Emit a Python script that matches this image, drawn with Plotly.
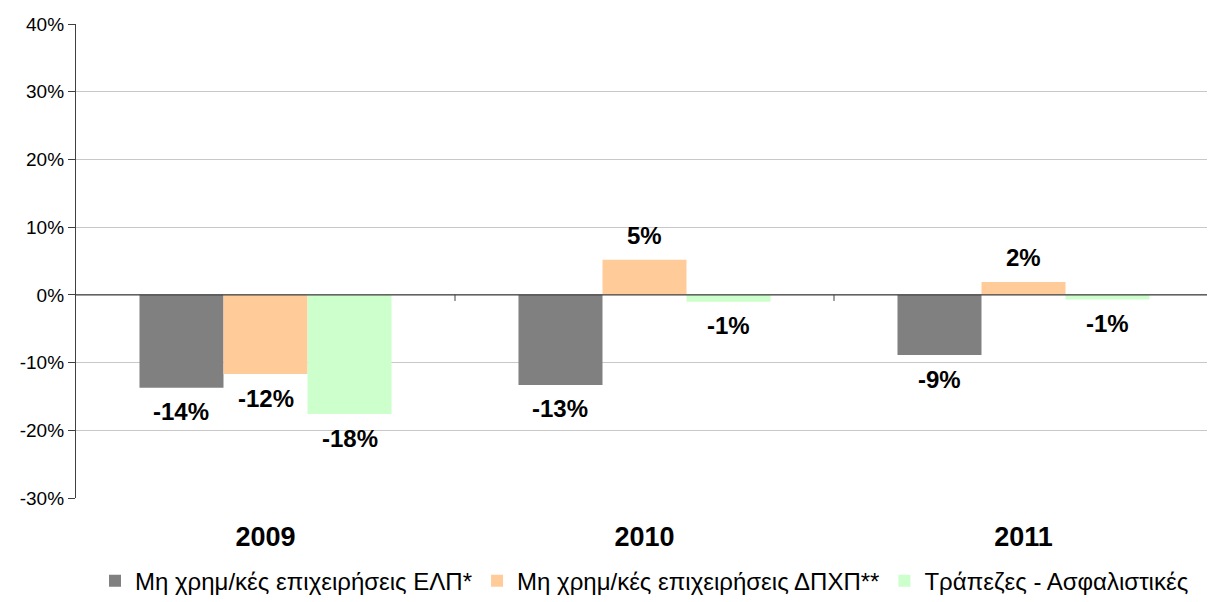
import plotly.graph_objects as go

years = ["2009", "2010", "2011"]
series_names = ["Μη χρημ/κές επιχειρήσεις ΕΛΠ*", "Μη χρημ/κές επιχειρήσεις ΔΠΧΠ**", "Τράπεζες - Ασφαλιστικές"]
elp = [-0.137, -0.133, -0.089]
dpxp = [-0.117, 0.052, 0.019]
banks = [-0.176, -0.010, -0.007]
colors = ["#808080", "#FFCC99", "#CCFFCC"]
tick_vals = [-0.3, -0.2, -0.1, 0, 0.1, 0.2, 0.3, 0.4]
tick_text = ["-30%", "-20%", "-10%", "0%", "10%", "20%", "30%", "40%"]

FONT = "Liberation Sans, Arial, sans-serif"
BARGAP = 0.335
all_series = [elp, dpxp, banks]
n_series = len(all_series)
bar_w = (1 - BARGAP) / n_series

fig = go.Figure()
for name, vals, col in zip(series_names, all_series, colors):
    fig.add_trace(go.Bar(
        x=list(range(len(years))), y=vals, name=name,
        marker=dict(color=col, line=dict(width=0)),
        hoverinfo="name+y",
    ))

# data labels
annotations = []
for k, vals in enumerate(all_series):
    off = (k - (n_series - 1) / 2) * bar_w
    for i, v in enumerate(vals):
        annotations.append(dict(
            x=i + off, y=v, xref="x", yref="y",
            text=f"<b>{round(v*100):d}%</b>", showarrow=False,
            yshift=24 if v >= 0 else -24, yanchor="middle",
            font=dict(family=FONT, size=24, color="black"),
        ))

# zero line and its tick marks at category boundaries
for xb in [0.5, 1.5, 2.5]:
    fig.add_shape(type="line", xref="x", yref="y", x0=xb, x1=xb, y0=0, y1=-0.009,
                  line=dict(color="#404040", width=1))
fig.add_shape(type="line", xref="paper", yref="y", x0=0, x1=1, y0=0, y1=0,
              line=dict(color="#404040", width=1.3))

fig.update_layout(
    width=1207, height=594,
    margin=dict(l=68, r=2, t=16, b=104, autoexpand=False),
    paper_bgcolor="white", plot_bgcolor="white",
    barmode="group", bargap=BARGAP, bargroupgap=0,
    font=dict(family=FONT, size=19, color="black"),
    showlegend=True,
    legend=dict(orientation="h", x=0.5, xanchor="center",
                y=0.035, yref="container", yanchor="middle",
                font=dict(size=24, family=FONT), itemwidth=30, traceorder="normal",
                tracegroupgap=0),
    annotations=annotations,
)
fig.update_xaxes(range=[-0.5, 2.5], showline=False, ticks="", showgrid=False,
                 tickfont=dict(size=27, family=FONT),
                 tickvals=list(range(len(years))), ticktext=[f"<b>{y}</b>" for y in years],
                 ticklabelstandoff=20)
fig.update_yaxes(range=[-0.3, 0.4], tickvals=tick_vals, ticktext=tick_text,
                 showgrid=True, gridcolor="#C8C8C8", gridwidth=1, zeroline=False,
                 showline=True, linecolor="#404040", linewidth=1.3,
                 ticks="outside", ticklen=7, tickcolor="#404040",
                 tickfont=dict(size=19, family=FONT))

fig.write_html("out.html")
